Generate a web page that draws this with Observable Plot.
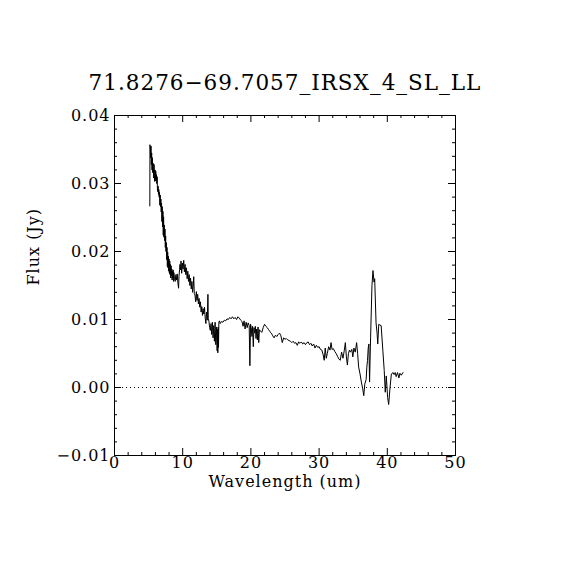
<!DOCTYPE html>
<html>
<head>
<meta charset="utf-8">
<script src="https://cdn.jsdelivr.net/npm/d3@7"></script>
<script src="https://cdn.jsdelivr.net/npm/@observablehq/plot@0.6"></script>
<style>
  html, body { margin: 0; padding: 0; background: #fff; }
  #chart { width: 570px; height: 570px; }
</style>
</head>
<body>
<div id="chart"></div>
<script>
const title = "71.8276\u221269.7057_IRSX_4_SL_LL";
const xLabel = "Wavelength (um)";
const yLabel = "Flux (Jy)";

const xMajor = [0, 10, 20, 30, 40, 50];
const xMinor = [2, 4, 6, 8, 12, 14, 16, 18, 22, 24, 26, 28, 32, 34, 36, 38, 42, 44, 46, 48];
const yMajor = [-0.01, 0, 0.01, 0.02, 0.03, 0.04];
const yMinor = [-0.008, -0.006, -0.004, -0.002, 0.002, 0.004, 0.006, 0.008,
  0.012, 0.014, 0.016, 0.018, 0.022, 0.024, 0.026, 0.028,
  0.032, 0.034, 0.036, 0.038];

const wavelength = [
  5.18, 5.20, 5.25, 5.30, 5.35, 5.40, 5.45, 5.50, 5.55, 5.60, 5.65, 5.70, 5.75, 5.80, 5.85, 5.90, 5.95,
  6.00, 6.05, 6.10, 6.15, 6.20, 6.25, 6.30, 6.35, 6.40, 6.45, 6.50, 6.55, 6.60, 6.65, 6.70, 6.75, 6.80,
  6.85, 6.90, 6.95, 7.00, 7.05, 7.10, 7.15, 7.20, 7.25, 7.30, 7.35, 7.40, 7.45, 7.50, 7.55, 7.60, 7.65,
  7.70, 7.75, 7.80, 7.85, 7.90, 7.95, 8.00, 8.05, 8.10, 8.15, 8.20, 8.25, 8.30, 8.35, 8.40, 8.45, 8.50,
  8.55, 8.60, 8.65, 8.70, 8.80, 8.90, 9.00, 9.10, 9.20, 9.30, 9.40, 9.45, 9.55, 9.60, 9.70, 9.75, 9.85,
  9.95, 10.05, 10.15, 10.25, 10.35, 10.45, 10.55, 10.65, 10.75, 10.85, 10.95, 11.05, 11.15, 11.25, 11.35,
  11.45, 11.55, 11.62, 11.70, 11.80, 11.90, 12.00, 12.10, 12.20, 12.30, 12.40, 12.50, 12.60, 12.70, 12.80,
  12.90, 13.00, 13.10, 13.20, 13.30, 13.40, 13.50, 13.60, 13.70, 13.75, 13.85, 13.95, 14.05, 14.15, 14.25,
  14.35, 14.45, 14.55, 14.65, 14.75, 14.85, 14.95, 15.05, 15.10, 15.15, 15.20, 15.25, 15.30, 15.40, 15.50,
  15.70, 15.90, 16.10, 16.30, 16.50, 16.70, 16.90, 17.10, 17.30, 17.50, 17.70, 17.90, 18.10, 18.30, 18.50,
  18.70, 18.85, 19.00, 19.15, 19.30, 19.45, 19.60, 19.75, 19.85, 19.95, 20.05, 20.15, 20.25, 20.35, 20.45,
  20.55, 20.65, 20.75, 20.85, 20.95, 21.05, 21.15, 21.25, 21.40, 21.60, 21.80, 22.00, 22.20, 22.40, 22.60,
  22.80, 23.00, 23.20, 23.40, 23.60, 23.80, 24.00, 24.20, 24.40, 24.60, 24.80, 25.00, 25.20, 25.40, 25.60,
  25.80, 26.00, 26.20, 26.40, 26.60, 26.80, 27.00, 27.20, 27.40, 27.60, 27.80, 28.00, 28.20, 28.40, 28.60,
  28.80, 29.00, 29.20, 29.40, 29.60, 29.80, 30.00, 30.20, 30.40, 30.60, 30.75, 30.90, 31.05, 31.20, 31.40,
  31.60, 31.75, 31.90, 32.10, 32.30, 32.50, 32.70, 32.90, 33.10, 33.30, 33.50, 33.70, 33.85, 34.00, 34.15,
  34.30, 34.45, 34.60, 34.80, 34.95, 35.10, 35.30, 35.50, 35.65, 35.80, 36.00, 36.20, 36.40, 36.55, 36.70,
  36.90, 37.00, 37.10, 37.20, 37.30, 37.40, 37.55, 37.75, 37.90, 38.05, 38.15, 38.35, 38.50, 38.60, 38.75,
  38.90, 39.10, 39.35, 39.55, 39.70, 39.85, 40.05, 40.20, 40.40, 40.60, 40.85, 41.00, 41.15, 41.30, 41.50,
  41.70, 41.85, 42.05, 42.30
];

const flux = [
  0.0267, 0.0357, 0.0352, 0.0338, 0.0355, 0.0328, 0.0345, 0.0320, 0.0338, 0.0316, 0.0330, 0.0322, 0.0308, 0.0328, 0.0312, 0.0303, 0.0320,
  0.0304, 0.0318, 0.0306, 0.0313, 0.0300, 0.0310, 0.0290, 0.0288, 0.0296, 0.0284, 0.0291, 0.0280, 0.0287, 0.0268, 0.0283, 0.0266, 0.0277,
  0.0258, 0.0271, 0.0244, 0.0266, 0.0236, 0.0259, 0.0224, 0.0251, 0.0221, 0.0239, 0.0216, 0.0233, 0.0206, 0.0223, 0.0200, 0.0213, 0.0188,
  0.0206, 0.0178, 0.0199, 0.0176, 0.0193, 0.0171, 0.0189, 0.0168, 0.0186, 0.0166, 0.0181, 0.0161, 0.0179, 0.0164, 0.0174, 0.0158, 0.0171,
  0.0161, 0.0173, 0.0156, 0.0169, 0.0160, 0.0156, 0.0166, 0.0158, 0.0167, 0.0153, 0.0146, 0.0163, 0.0174, 0.0181, 0.0173, 0.0186, 0.0168,
  0.0183, 0.0174, 0.0187, 0.0170, 0.0181, 0.0166, 0.0176, 0.0160, 0.0171, 0.0156, 0.0166, 0.0150, 0.0161, 0.0145, 0.0156,
  0.0140, 0.0151, 0.0163, 0.0138, 0.0136, 0.0126, 0.0141, 0.0128, 0.0137, 0.0123, 0.0131, 0.0118, 0.0126, 0.0111, 0.0119,
  0.0106, 0.0116, 0.0108, 0.0118, 0.0102, 0.0094, 0.0111, 0.0099, 0.0137, 0.0101, 0.0097, 0.0088, 0.0084, 0.0094, 0.0078,
  0.0096, 0.0073, 0.0091, 0.0068, 0.0096, 0.0063, 0.0089, 0.0054, 0.0086, 0.0051, 0.0089, 0.0059, 0.0096, 0.0098, 0.0094,
  0.0097, 0.0096, 0.0099, 0.0098, 0.0101, 0.0100, 0.0103, 0.0101, 0.0104, 0.0101, 0.0103, 0.0100, 0.0104, 0.0102, 0.0099,
  0.0097, 0.0090, 0.0098, 0.0086, 0.0096, 0.0088, 0.0095, 0.0091, 0.0032, 0.0093, 0.0088, 0.0075, 0.0090, 0.0060, 0.0088,
  0.0080, 0.0090, 0.0072, 0.0086, 0.0070, 0.0089, 0.0066, 0.0085, 0.0083, 0.0081, 0.0088, 0.0093, 0.0090, 0.0088, 0.0085,
  0.0082, 0.0080, 0.0076, 0.0073, 0.0077, 0.0075, 0.0078, 0.0080, 0.0076, 0.0066, 0.0073, 0.0071, 0.0072, 0.0070, 0.0069,
  0.0068, 0.0066, 0.0068, 0.0065, 0.0066, 0.0062, 0.0067, 0.0065, 0.0067, 0.0064, 0.0066, 0.0063, 0.0066, 0.0067, 0.0063,
  0.0065, 0.0061, 0.0064, 0.0058, 0.0062, 0.0059, 0.0060, 0.0056, 0.0055, 0.0048, 0.0040, 0.0058, 0.0043, 0.0050, 0.0060,
  0.0055, 0.0066, 0.0056, 0.0057, 0.0053, 0.0050, 0.0046, 0.0042, 0.0040, 0.0052, 0.0043, 0.0055, 0.0066, 0.0045, 0.0033,
  0.0050, 0.0055, 0.0052, 0.0056, 0.0045, 0.0058, 0.0052, 0.0066, 0.0050, 0.0030, 0.0020, 0.0008, -0.0002, -0.0012, 0.0005,
  0.0012, 0.0030, 0.0040, 0.0058, 0.0064, 0.0008, 0.0073, 0.0150, 0.0172, 0.0155, 0.0160, 0.0095, 0.0080, 0.0064, 0.0093,
  0.0092, 0.0091, 0.0054, 0.0025, -0.0007, 0.0017, -0.0015, -0.0025, 0.0000, 0.0020, 0.0022, 0.0019, 0.0022, 0.0016, 0.0022,
  0.0014, 0.0021, 0.0018, 0.0022
];

const spectrum = wavelength.map((w, i) => ({w, f: flux[i]}));
const serif = "DejaVu Serif, Liberation Serif, serif";
const fmtY = d3.format(".2f");

const chart = Plot.plot({
  width: 570,
  height: 570,
  marginLeft: 114,
  marginRight: 115,
  marginTop: 115,
  marginBottom: 115,
  style: {fontFamily: serif, background: "#fff", color: "#000", letterSpacing: "1px"},
  x: {domain: [0, 50], axis: null},
  y: {domain: [-0.01, 0.04], axis: null},
  marks: [
    Plot.ruleY([0], {stroke: "#000", strokeWidth: 1, strokeDasharray: "1,3"}),
    Plot.line(spectrum, {x: "w", y: "f", stroke: "#000", strokeWidth: 1}),
    Plot.frame({stroke: "#000", strokeWidth: 1}),
    // bottom ticks
    Plot.tickX(xMajor, {x: d => d, insetTop: 333, stroke: "#000"}),
    Plot.tickX(xMinor, {x: d => d, insetTop: 337, stroke: "#000"}),
    // top ticks
    Plot.tickX(xMajor, {x: d => d, insetBottom: 333, stroke: "#000"}),
    Plot.tickX(xMinor, {x: d => d, insetBottom: 337, stroke: "#000"}),
    // left ticks
    Plot.tickY(yMajor, {y: d => d, insetRight: 334, stroke: "#000"}),
    Plot.tickY(yMinor, {y: d => d, insetRight: 338, stroke: "#000"}),
    // right ticks
    Plot.tickY(yMajor, {y: d => d, insetLeft: 334, stroke: "#000"}),
    Plot.tickY(yMinor, {y: d => d, insetLeft: 338, stroke: "#000"}),
    // tick labels
    Plot.text(xMajor, {x: d => d, text: d => String(d), frameAnchor: "bottom", lineAnchor: "top", dy: 1,
      fontSize: 16, fill: "#000"}),
    Plot.text(yMajor, {y: d => d, text: d => fmtY(d), frameAnchor: "left", lineAnchor: "middle", textAnchor: "end", dx: -4,
      fontSize: 16, fill: "#000"}),
    // axis labels
    Plot.text([xLabel], {text: d => d, frameAnchor: "bottom", lineAnchor: "top", dy: 20,
      fontSize: 16, fill: "#000"}),
    Plot.text([yLabel], {text: d => d, frameAnchor: "left", lineAnchor: "middle", rotate: -90, dx: -81,
      fontSize: 16, fill: "#000"}),
    // title
    Plot.text([title], {text: d => d, frameAnchor: "top", lineAnchor: "middle", dy: -32,
      fontSize: 21.5, fill: "#000"})
  ]
});
document.getElementById("chart").appendChild(chart);
</script>
</body>
</html>
